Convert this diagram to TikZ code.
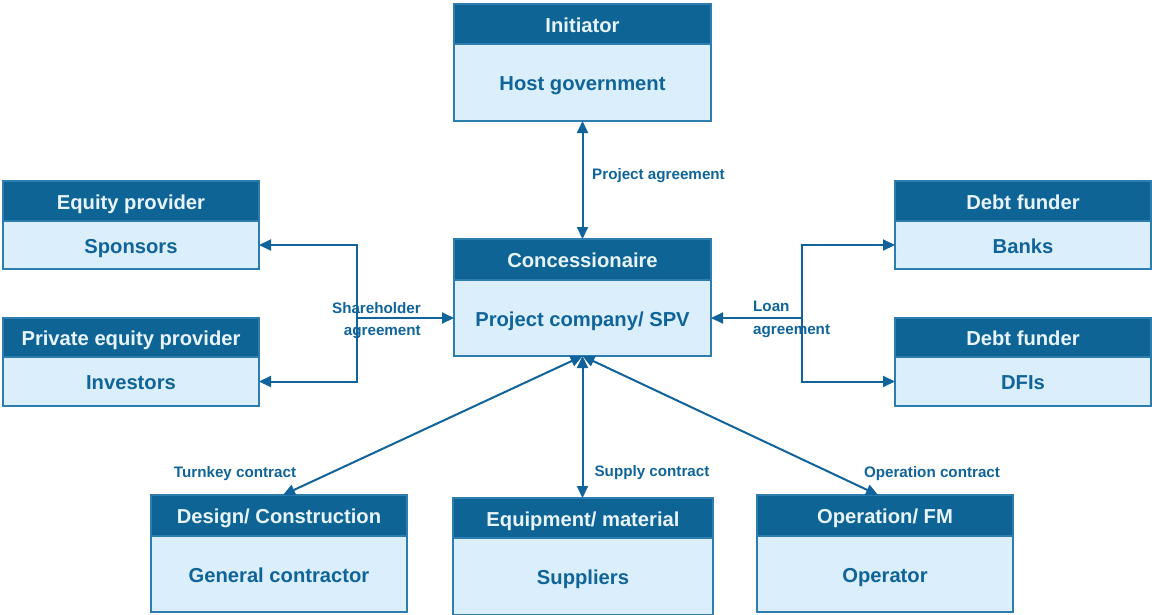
\documentclass[tikz,border=0pt]{standalone}
\usepackage{fontspec}
\setmainfont{Liberation Sans}
\usetikzlibrary{arrows.meta,calc}
\definecolor{hdrc}{HTML}{0F6496}
\definecolor{bodyc}{HTML}{DAEEFB}
\definecolor{bordc}{HTML}{2D7DB1}
\definecolor{hdrtxt}{HTML}{E8F4FC}
\definecolor{txtc}{HTML}{10649A}
\definecolor{linec}{HTML}{11639C}
\tikzset{
  boxtext/.style={inner sep=0pt, outer sep=0pt, anchor=north west, text height=17pt, text depth=0.5pt,
    font=\fontsize{20.2}{23}\selectfont\bfseries},
  hdr/.style={boxtext, draw=bordc, line width=1.2pt, fill=hdrc, text=hdrtxt},
  bdy/.style={boxtext, draw=bordc, line width=1.2pt, fill=bodyc, text=txtc},
  lbl/.style={text=txtc, inner sep=0pt, yshift=-2.5pt, font=\fontsize{15.2}{22.5}\selectfont\bfseries},
  conn/.style={draw=linec, line width=2pt},
  tip/.tip={Triangle[length=12pt,width=11pt]}
}
\newcommand\pbox[8]{%
  \node[hdr, minimum width=#4pt, minimum height=#5pt] (#1H) at (#2,#3) {#7};
  \node[bdy, minimum width=#4pt, minimum height=#6pt] (#1B) at (#1H.south west) {#8};
}
\begin{document}
\begin{tikzpicture}[x=1pt,y=-1pt]
\useasboundingbox (0,0) rectangle (1152,614);
\pbox{ini}{454}{4}{257}{40}{77}{Initiator}{Host government}
\pbox{con}{454}{239}{257}{41}{76}{Concessionaire}{Project company/ SPV}
\pbox{spo}{3}{181}{256}{40}{48}{Equity provider}{Sponsors}
\pbox{inv}{3}{318}{256}{39}{49}{Private equity provider}{Investors}
\pbox{ban}{895}{181}{256}{40}{48}{Debt funder}{Banks}
\pbox{dfi}{895}{318}{256}{39}{49}{Debt funder}{DFIs}
\pbox{des}{151}{495}{256}{41}{76}{Design/ Construction}{General contractor}
\pbox{equ}{453}{498}{260}{40}{77}{Equipment/ material}{Suppliers}
\pbox{ope}{757}{495}{256}{41}{76}{Operation/ FM}{Operator}

% project agreement
\draw[conn, {tip}-{tip}] (iniB.south) -- (conH.north);
\node[lbl, anchor=west] (pa) at (592,173) {Project agreement};

% shareholder
\coordinate (sh) at (357,318);
\draw[conn, {tip}-{tip}] (spoB.east) -| (sh) |- (invB.east);
\draw[conn, -{tip}] (sh |- conB.west) -- (conB.west);
\node[lbl, anchor=east, align=right] (sa) at (421,318) {Shareholder\\agreement};

% loan
\coordinate (la) at (802,318);
\draw[conn, {tip}-{tip}] (banB.west) -| (la) |- (dfiB.west);
\draw[conn, -{tip}] (la |- conB.east) -- (conB.east);
\node[lbl, anchor=west, align=left] (lo) at (753,317) {Loan\\agreement};

% bottom contracts
\draw[conn, {tip}-{tip}] (conB.south) -- ($(desH.north)+(4,0)$);
\draw[conn, {tip}-{tip}] (conB.south) -- (conB.south |- equH.north);
\draw[conn, {tip}-{tip}] (conB.south) -- ($(opeH.north)+(-7,0)$);
\node[lbl] (tk) at (235,471) {Turnkey contract};
\node[lbl] (sc) at (652,470) {Supply contract};
\node[lbl] (oc) at (932,471) {Operation contract};
\end{tikzpicture}
\end{document}
